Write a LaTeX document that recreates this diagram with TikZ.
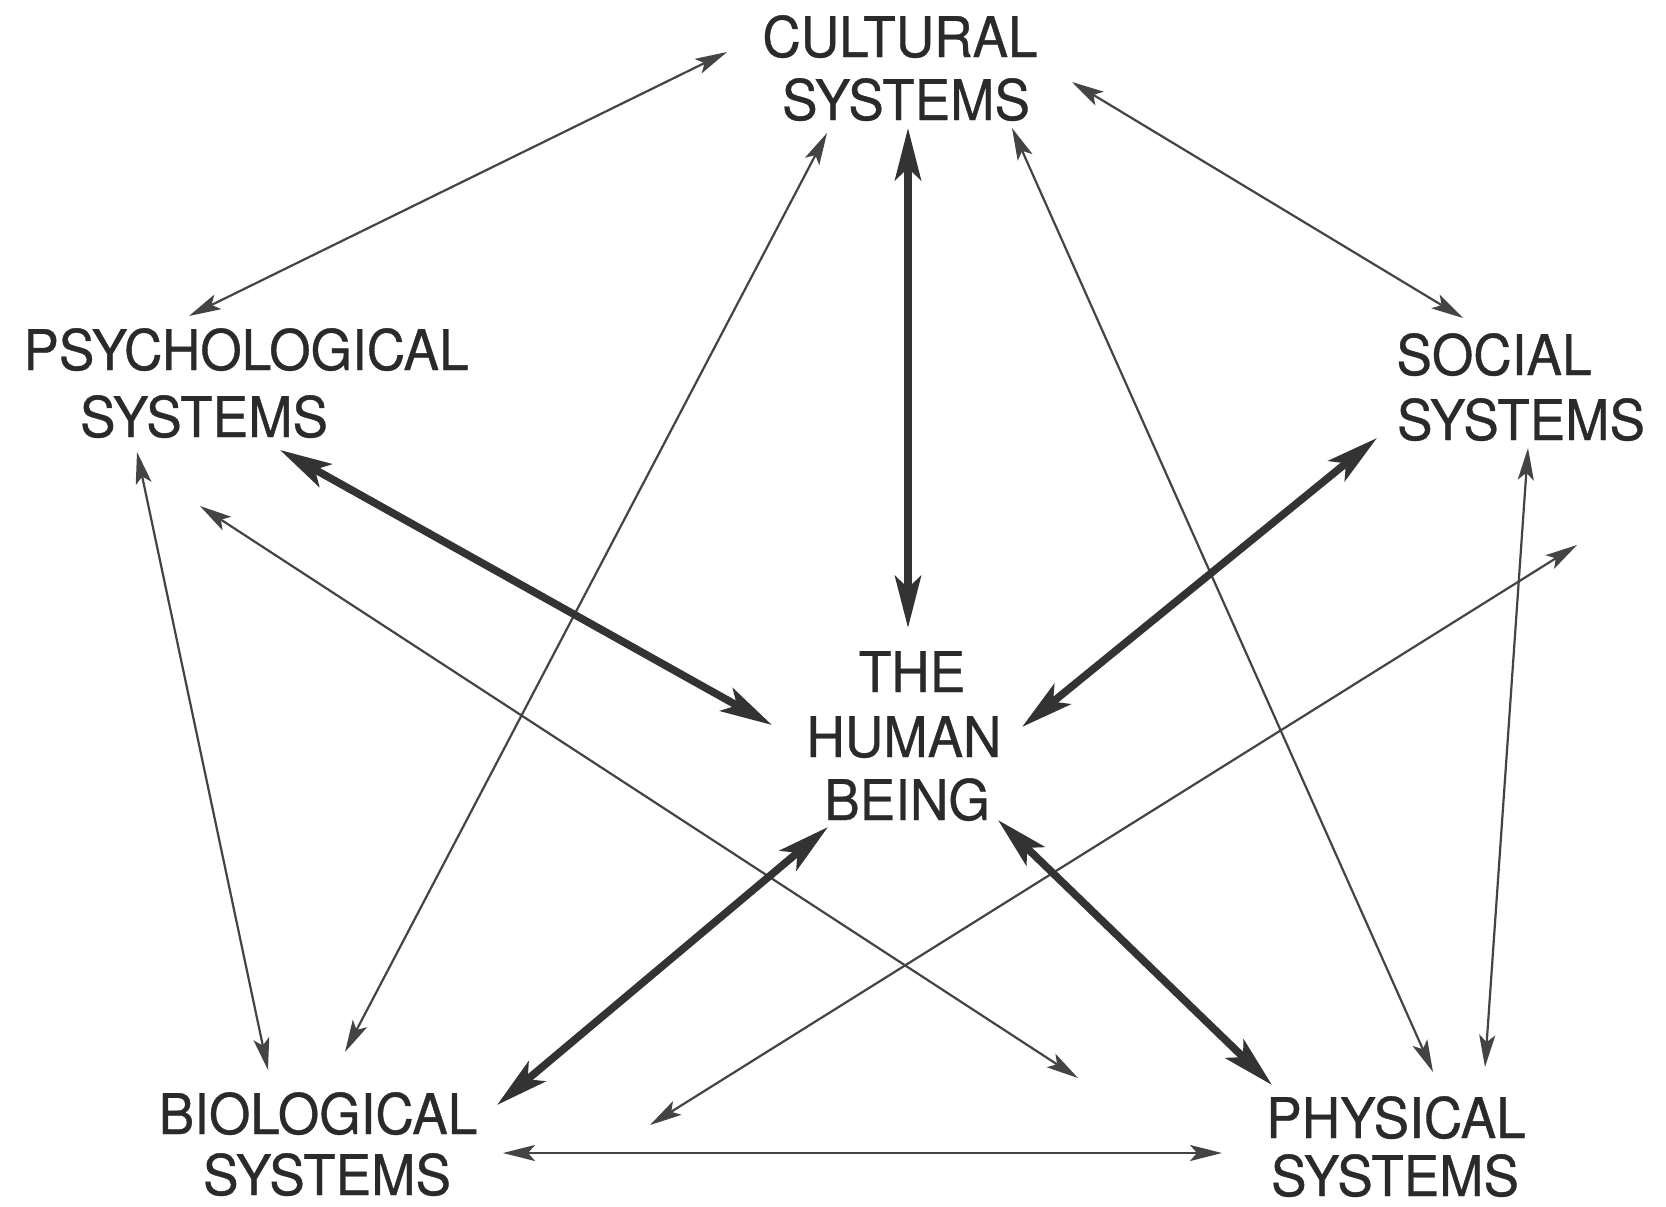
\documentclass[tikz,border=0pt]{standalone}
\usepackage{fontspec}
\setmainfont{TeX Gyre Heros}[FakeStretch=0.95,FakeBold=0.6]
\usetikzlibrary{arrows.meta}
\definecolor{ink}{HTML}{2A2A2A}
\definecolor{thinink}{HTML}{444444}
\definecolor{thickink}{HTML}{333333}
\tikzset{
  lbl/.style={anchor=base, inner sep=0pt, text=ink, font=\fontsize{28}{30}\selectfont},
  thinarrow/.style={draw=thinink, line width=1.1pt, {Stealth[length=16pt,width=8pt,inset=3.5pt]}-{Stealth[length=16pt,width=8pt,inset=3.5pt]}},
  thickarrow/.style={draw=thickink, line width=3.8pt, {Stealth[length=26pt,width=13pt,inset=6pt]}-{Stealth[length=26pt,width=13pt,inset=6pt]}}
}
\begin{document}
\begin{tikzpicture}[x=0.5pt,y=-0.5pt]
\useasboundingbox[fill=white] (0,0) rectangle (1666,1206);
% labels
\node[lbl] (cul1) at (900,57) {CULTURAL};
\node[lbl] (cul2) at (906,120) {SYSTEMS};
\node[lbl] (psy1) at (246,370) {PSYCHOLOGICAL};
\node[lbl] (psy2) at (204,437) {SYSTEMS};
\node[lbl] (soc1) at (1494,375) {SOCIAL};
\node[lbl] (soc2) at (1521,440) {SYSTEMS};
\node[lbl] (hum1) at (912,692) {THE};
\node[lbl] (hum2) at (904,757) {HUMAN};
\node[lbl] (hum3) at (907,820) {BEING};
\node[lbl] (bio1) at (318,1134) {BIOLOGICAL};
\node[lbl] (bio2) at (327,1195) {SYSTEMS};
\node[lbl] (phy1) at (1396,1138) {PHYSICAL};
\node[lbl] (phy2) at (1395,1196) {SYSTEMS};
% connector ends
\coordinate (cpA) at (727,52);   \coordinate (cpB) at (189,316);
\coordinate (csA) at (1072,82);  \coordinate (csB) at (1463,318);
\coordinate (chA) at (908,128);  \coordinate (chB) at (908,628);
\coordinate (cbA) at (827,133);  \coordinate (cbB) at (345,1052);
\coordinate (cyA) at (1012,128); \coordinate (cyB) at (1433,1072);
\coordinate (phA) at (280,450);  \coordinate (phB) at (772,725);
\coordinate (pbA) at (137,452);  \coordinate (pbB) at (268,1070);
\coordinate (pyA) at (200,506);  \coordinate (pyB) at (1078,1078);
\coordinate (shA) at (1377,438); \coordinate (shB) at (1022,727);
\coordinate (syA) at (1528,448); \coordinate (syB) at (1485,1067);
\coordinate (bsA) at (650,1125); \coordinate (bsB) at (1577,545);
\coordinate (hbA) at (828,827);  \coordinate (hbB) at (497,1105);
\coordinate (hyA) at (998,820);  \coordinate (hyB) at (1272,1085);
\coordinate (byA) at (503,1153); \coordinate (byB) at (1222,1153);
% thin connectors
\draw[thinarrow] (cpA) -- (cpB);
\draw[thinarrow] (csA) -- (csB);
\draw[thinarrow] (cbA) -- (cbB);
\draw[thinarrow] (cyA) -- (cyB);
\draw[thinarrow] (pbA) -- (pbB);
\draw[thinarrow] (pyA) -- (pyB);
\draw[thinarrow] (syA) -- (syB);
\draw[thinarrow] (bsA) -- (bsB);
\draw[thinarrow] (byA) -- (byB);
% thick connectors
\draw[thickarrow] (chA) -- (chB);
\draw[thickarrow] (phA) -- (phB);
\draw[thickarrow] (shA) -- (shB);
\draw[thickarrow] (hbA) -- (hbB);
\draw[thickarrow] (hyA) -- (hyB);
\end{tikzpicture}
\end{document}
